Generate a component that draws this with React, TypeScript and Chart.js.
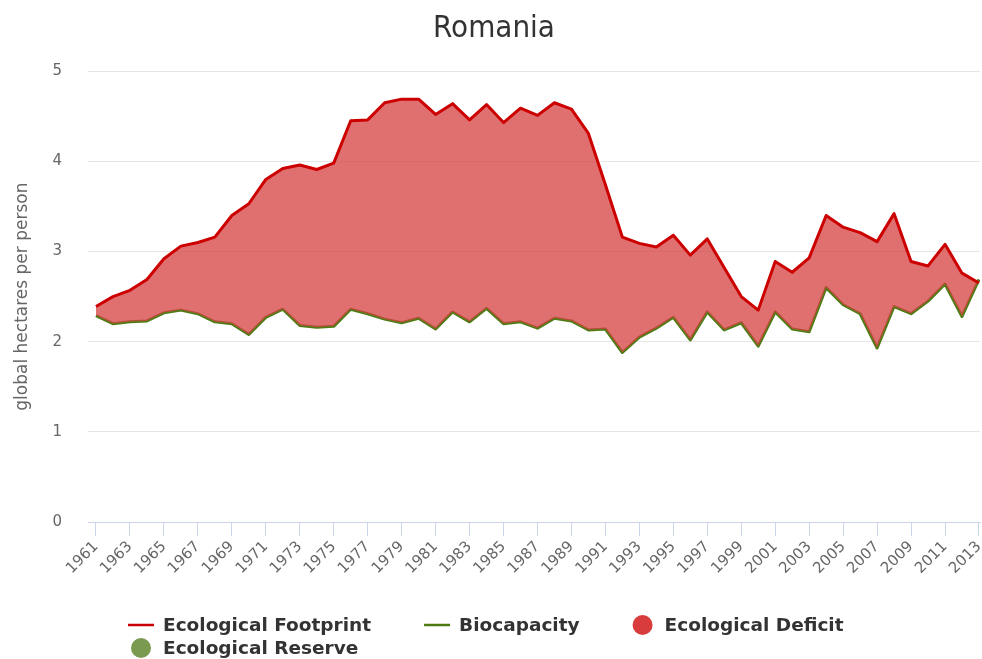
import React, { useEffect, useRef } from "react";
import { Chart, registerables } from "chart.js";

Chart.register(...registerables);

const TITLE = "Romania";
const Y_TITLE = "global hectares per person";

const years = [
  1961, 1962, 1963, 1964, 1965, 1966, 1967, 1968, 1969, 1970,
  1971, 1972, 1973, 1974, 1975, 1976, 1977, 1978, 1979, 1980,
  1981, 1982, 1983, 1984, 1985, 1986, 1987, 1988, 1989, 1990,
  1991, 1992, 1993, 1994, 1995, 1996, 1997, 1998, 1999, 2000,
  2001, 2002, 2003, 2004, 2005, 2006, 2007, 2008, 2009, 2010,
  2011, 2012, 2013,
];

const footprint = [
  2.39, 2.5, 2.57, 2.69, 2.92, 3.06, 3.1, 3.16, 3.4, 3.53,
  3.8, 3.92, 3.96, 3.91, 3.98, 4.45, 4.46, 4.65, 4.69, 4.69,
  4.52, 4.64, 4.46, 4.63, 4.43, 4.59, 4.51, 4.65, 4.58, 4.31,
  3.74, 3.16, 3.09, 3.05, 3.18, 2.96, 3.14, 2.82, 2.5, 2.35,
  2.89, 2.77, 2.93, 3.4, 3.27, 3.21, 3.11, 3.42, 2.89, 2.84,
  3.08, 2.76, 2.65,
];

const biocapacity = [
  2.29, 2.2, 2.22, 2.23, 2.32, 2.35, 2.31, 2.22, 2.2, 2.08,
  2.27, 2.36, 2.18, 2.16, 2.17, 2.36, 2.31, 2.25, 2.21, 2.26,
  2.14, 2.33, 2.22, 2.37, 2.2, 2.22, 2.15, 2.26, 2.23, 2.13,
  2.14, 1.88, 2.05, 2.15, 2.27, 2.02, 2.33, 2.13, 2.21, 1.95,
  2.33, 2.14, 2.11, 2.6, 2.41, 2.31, 1.93, 2.39, 2.31, 2.45,
  2.64, 2.28, 2.69,
];

const xTickLabels = years.filter((y) => (y - 1961) % 2 === 0);
const yTickValues = [0, 1, 2, 3, 4, 5];

const FOOT_COLOR = "#cc0000";
const BIO_COLOR = "#4d7a12";
const DEFICIT_COLOR = "#d83c3c";
const DEFICIT_FILL = "rgba(214, 64, 64, 0.75)";
const RESERVE_COLOR = "#7a9a50";
const RESERVE_FILL = "rgba(122, 154, 80, 0.75)";

const legendItems = [
  { label: "Ecological Footprint", kind: "line", color: FOOT_COLOR },
  { label: "Biocapacity", kind: "line", color: BIO_COLOR },
  { label: "Ecological Deficit", kind: "dot", color: DEFICIT_COLOR },
  { label: "Ecological Reserve", kind: "dot", color: RESERVE_COLOR },
];

const legendPlugin = {
  id: "customLegend",
  afterDraw(chart: any) {
    const ctx = chart.ctx;
    ctx.save();
    ctx.font = 'bold 18.5px "DejaVu Sans", Verdana, sans-serif';
    ctx.textBaseline = "middle";
    ctx.textAlign = "left";
    const startX = 128;
    const maxRight = 870;
    let x = startX;
    let y = 625;
    legendItems.forEach((item, idx) => {
      const w = ctx.measureText(item.label).width;
      const itemW = 35 + w;
      if (idx > 0) {
        x += item.kind === "dot" ? 50 : 53;
      }
      if (x !== startX && x + itemW > maxRight) {
        x = startX;
        y += 23;
      }
      if (item.kind === "line") {
        ctx.strokeStyle = item.color;
        ctx.lineWidth = 2.5;
        ctx.beginPath();
        ctx.moveTo(x, y);
        ctx.lineTo(x + 26, y);
        ctx.stroke();
      } else {
        ctx.fillStyle = item.color;
        ctx.beginPath();
        ctx.arc(x + 13, y, 10, 0, Math.PI * 2);
        ctx.fill();
      }
      ctx.fillStyle = "#333333";
      ctx.fillText(item.label, x + 35, y + 1);
      x += itemW;
    });
    ctx.restore();
  },
};

export default function App() {
  const canvasRef = useRef<HTMLCanvasElement | null>(null);

  useEffect(() => {
    if (!canvasRef.current) return;
    const footData = years.map((yr, i) => ({ x: yr, y: footprint[i] }));
    const bioData = years.map((yr, i) => ({ x: yr, y: biocapacity[i] }));

    const chart = new Chart(canvasRef.current, {
      type: "line",
      data: {
        datasets: [
          {
            label: "Ecological Footprint",
            data: footData,
            borderColor: FOOT_COLOR,
            borderWidth: 3,
            borderJoinStyle: "round",
            pointRadius: 0,
            tension: 0,
            fill: { target: 1, above: DEFICIT_FILL, below: RESERVE_FILL },
          },
          {
            label: "Biocapacity",
            data: bioData,
            borderColor: BIO_COLOR,
            borderWidth: 3,
            borderJoinStyle: "round",
            pointRadius: 0,
            tension: 0,
            fill: false,
          },
        ],
      },
      options: {
        responsive: false,
        animation: false,
        events: [],
        layout: { padding: { left: 8, right: 2, top: 0, bottom: 57 } },
        plugins: {
          legend: { display: false },
          tooltip: { enabled: false },
          title: {
            display: true,
            text: TITLE,
            color: "#333333",
            font: {
              family: '"DejaVu Sans Condensed", "Liberation Sans Narrow", "DejaVu Sans", sans-serif',
              size: 31,
              weight: "normal",
            },
            padding: { top: 10, bottom: 24 },
          },
        },
        scales: {
          x: {
            type: "linear",
            min: 1960.53,
            max: 2013.06,
            afterBuildTicks: (scale: any) => {
              scale.ticks = xTickLabels.map((v) => ({ value: v }));
            },
            afterFit: (scale: any) => {
              scale.height = 80;
              scale.paddingLeft = 0;
              scale.paddingRight = 0;
            },
            grid: {
              display: true,
              drawOnChartArea: false,
              drawTicks: true,
              tickLength: 14,
              color: "#ccd6eb",
            },
            border: { display: true, color: "#ccd6eb", width: 1 },
            ticks: {
              autoSkip: false,
              minRotation: 45,
              maxRotation: 45,
              padding: 2,
              color: "#666666",
              font: { family: '"DejaVu Sans", Verdana, sans-serif', size: 15 },
              callback: (v: any) => String(v),
            },
          },
          y: {
            type: "linear",
            min: 0,
            max: 5,
            afterBuildTicks: (scale: any) => {
              scale.ticks = yTickValues.map((v) => ({ value: v }));
            },
            afterFit: (scale: any) => {
              scale.width = 80;
            },
            grid: {
              color: "#e6e6e6",
              lineWidth: 1,
              drawTicks: false,
            },
            border: { display: false },
            ticks: {
              padding: 26,
              color: "#666666",
              font: { family: '"DejaVu Sans", Verdana, sans-serif', size: 15 },
              callback: (v: any) => String(v),
            },
            title: {
              display: true,
              text: Y_TITLE,
              color: "#666666",
              font: { family: '"DejaVu Sans", Verdana, sans-serif', size: 17 },
              padding: { top: 4, bottom: 0 },
            },
          },
        },
      },
      plugins: [legendPlugin],
    } as any);

    return () => chart.destroy();
  }, []);

  return (
    <div style={{ position: "fixed", left: 0, top: 0, width: 982, height: 659, background: "#ffffff" }}>
      <canvas ref={canvasRef} width={982} height={659} style={{ display: "block" }} />
    </div>
  );
}
